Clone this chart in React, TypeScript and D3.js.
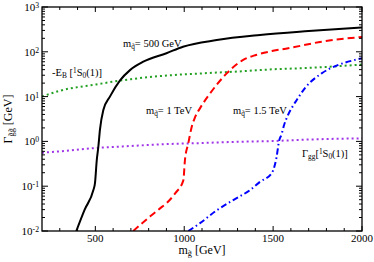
import React from "react";
import * as d3 from "d3";

// ---- data ----
const blackMg = [393, 440, 489, 498, 508, 517, 526, 545, 582, 639, 695, 770, 900, 993, 1183, 1426, 1700, 2000];
const blackG = [0.01, 0.03, 0.082, 0.117, 0.38, 0.76, 1.83, 5.0, 10, 23, 39, 60, 93, 130, 183, 237, 290, 350];

const redMg = [713, 807, 864, 901, 950, 995, 1004, 1023, 1042, 1060, 1090, 1145, 1239, 1332, 1404, 1500, 1585, 1773, 2000];
const redG = [0.01, 0.021, 0.032, 0.042, 0.07, 0.135, 0.38, 0.91, 2.1, 3.4, 5.6, 11.7, 33, 66, 85, 105, 120, 168, 215];

const blueMg = [1023, 1089, 1183, 1276, 1370, 1426, 1492, 1510, 1520, 1533, 1548, 1560, 1580, 1605, 1633, 1679, 1773, 1867, 1961, 2000];
const blueG = [0.01, 0.015, 0.029, 0.049, 0.082, 0.125, 0.195, 0.3, 0.46, 1.0, 1.45, 2.2, 3.6, 5.6, 8.4, 15.5, 33, 51, 66, 72];

const greenMg = [200, 300, 500, 700, 900, 1100, 1300, 1500, 1700, 2000];
const greenG = [10, 13.5, 18.6, 24.5, 29.5, 33, 36.3, 40.7, 43.7, 52];

const purpleMg = [200, 300, 500, 700, 900, 1100, 1300, 1500, 1700, 2000];
const purpleG = [0.56, 0.6, 0.71, 0.79, 0.87, 0.92, 0.98, 1.02, 1.1, 1.17];

const xMajor = [500, 1000, 1500, 2000];
const yExps = [-2, -1, 0, 1, 2, 3];

const W = 374, H = 262;
const L = 42, R = 362, T = 7, B = 231;
const FONT = "Liberation Serif, Times New Roman, serif";

export default function App() {
  const x = d3.scaleLinear().domain([200, 2000]).range([L, R]);
  const y = d3.scaleLog().domain([0.01, 1000]).range([B, T]);

  const mk = (xs: number[], ys: number[]) =>
    d3.line<number>().x((_, i) => x(xs[i])).y((_, i) => y(ys[i])).curve(d3.curveMonotoneX)(xs) || "";

  const xMinor = d3.range(300, 2000, 100).filter((v) => !xMajor.includes(v));
  const yMinor: number[] = [];
  for (let e = -2; e < 3; e++) for (let k = 2; k <= 9; k++) yMinor.push(k * Math.pow(10, e));

  const tickW = 1;
  const sub = (t: string) => (
    <tspan baselineShift="-25%" fontSize="70%">{t}</tspan>
  );
  const sup = (t: string) => (
    <tspan baselineShift="40%" fontSize="70%">{t}</tspan>
  );

  return (
    <svg width={W} height={H} style={{ position: "absolute", left: 0, top: 0, fontFamily: FONT }}>
      <defs>
        <clipPath id="plot"><rect x={L} y={T} width={R - L} height={B - T} /></clipPath>
      </defs>
      <rect x={0} y={0} width={W} height={H} fill="white" />
      <g clipPath="url(#plot)" fill="none" strokeWidth={2}>
        <path d={mk(greenMg, greenG)} stroke="#22a022" strokeDasharray="2,3" />
        <path d={mk(purpleMg, purpleG)} stroke="#a035e8" strokeDasharray="2,3" />
        <path d={mk(blackMg, blackG)} stroke="#000" />
        <path d={mk(redMg, redG)} stroke="#ff0000" strokeDasharray="7,4" />
        <path d={mk(blueMg, blueG)} stroke="#0000ff" strokeDasharray="6,3,1.5,3" />
      </g>
      {/* ticks */}
      <g stroke="#000" strokeWidth={tickW}>
        {xMajor.map((v) => (
          <g key={"xM" + v}>
            <line x1={x(v)} x2={x(v)} y1={B} y2={B - 5} />
            <line x1={x(v)} x2={x(v)} y1={T} y2={T + 5} />
          </g>
        ))}
        {xMinor.map((v) => (
          <g key={"xm" + v}>
            <line x1={x(v)} x2={x(v)} y1={B} y2={B - 3} />
            <line x1={x(v)} x2={x(v)} y1={T} y2={T + 3} />
          </g>
        ))}
        {yExps.map((e) => (
          <g key={"yM" + e}>
            <line x1={L} x2={L + 6} y1={y(Math.pow(10, e))} y2={y(Math.pow(10, e))} />
            <line x1={R} x2={R - 6} y1={y(Math.pow(10, e))} y2={y(Math.pow(10, e))} />
          </g>
        ))}
        {yMinor.map((v, i) => (
          <g key={"ym" + i}>
            <line x1={L} x2={L + 3} y1={y(v)} y2={y(v)} />
            <line x1={R} x2={R - 3} y1={y(v)} y2={y(v)} />
          </g>
        ))}
      </g>
      <rect x={L} y={T} width={R - L} height={B - T} fill="none" stroke="#000" strokeWidth={1.3} />
      {/* tick labels */}
      <g fontSize={11} fill="#000">
        {xMajor.map((v) => (
          <text key={"xl" + v} x={x(v)} y={B + 10.5} textAnchor="middle">{v}</text>
        ))}
        {yExps.map((e) => (
          <text key={"yl" + e} x={L - 3} y={y(Math.pow(10, e)) + 4} textAnchor="end">
            10{sup(String(e))}
          </text>
        ))}
      </g>
      {/* axis titles */}
      <text x={(L + R) / 2} y={254} textAnchor="middle" fontSize={12}>
        m{sub("g\u0303")}<tspan> [GeV]</tspan>
      </text>
      <text transform={`translate(12,${(T + B) / 2}) rotate(-90)`} textAnchor="middle" fontSize={12}>
        Γ{sub("g\u0303g\u0303")}<tspan> [GeV]</tspan>
      </text>
      {/* curve labels */}
      <g fontSize={10.5} fill="#000">
        <text x={123} y={47}>m{sub("q\u0303")}<tspan>= 500 GeV</tspan></text>
        <text x={52} y={76}>-E{sub("B")}<tspan> [</tspan>{sup("1")}<tspan>S</tspan>{sub("0")}<tspan>(1)]</tspan></text>
        <text x={146} y={114}>m{sub("q\u0303")}<tspan>= 1 TeV</tspan></text>
        <text x={233} y={114}>m{sub("q\u0303")}<tspan>= 1.5 TeV</tspan></text>
        <text x={302} y={157}>Γ{sub("gg")}<tspan>[</tspan>{sup("1")}<tspan>S</tspan>{sub("0")}<tspan>(1)]</tspan></text>
      </g>
    </svg>
  );
}
